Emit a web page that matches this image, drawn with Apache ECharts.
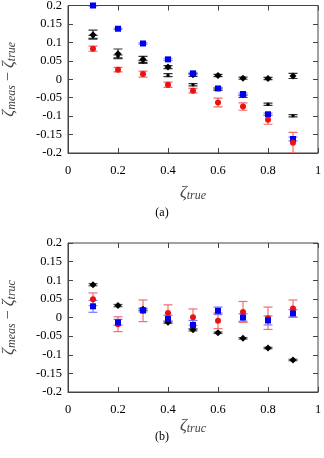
<!DOCTYPE html>
<html><head><meta charset="utf-8">
<script src="https://cdn.jsdelivr.net/npm/echarts@6/dist/echarts.min.js"></script>
<style>html,body{margin:0;padding:0;background:#fff}#c{width:324px;height:458px}</style>
</head><body><div id="c"></div>
<script>
// x positions
var zetaTrue = [0.1, 0.2, 0.3, 0.4, 0.5, 0.6, 0.7, 0.8, 0.9];
var xTicks = ['0', '0.2', '0.4', '0.6', '0.8', '1'];
var yTicks = ['-0.2', '-0.15', '-0.1', '-0.05', '0', '0.05', '0.1', '0.15', '0.2'];

// panel (a)
var aBlackDiamond = [0.121, 0.069, 0.054, 0.033, 0.012, 0.010, 0.003, 0.002, 0.009];
var aBlackDiamondErr = [0.012, 0.013, 0.008, 0.004, 0.004, 0.003, 0.003, 0.003, 0.007];
var aBlackCross = [0.115, 0.062, 0.047, 0.011, -0.015, -0.027, -0.046, -0.068, -0.099];
var aBlackCrossErr = [0.004, 0.004, 0.004, 0.004, 0.003, 0.003, 0.003, 0.003, 0.003];
var aBlue = [0.200, 0.137, 0.097, 0.054, 0.016, -0.025, -0.040, -0.095, -0.162];
var aBlueErr = [0.002, 0.002, 0.002, 0.003, 0.003, 0.003, 0.003, 0.003, 0.005];
var aRed = [0.083, 0.026, 0.014, -0.015, -0.031, -0.063, -0.074, -0.110, -0.172];
var aRedErr = [0.007, 0.006, 0.008, 0.007, 0.006, 0.012, 0.010, 0.012, 0.028];

// panel (b)
var bBlack = [0.088, 0.032, 0.022, -0.013, -0.033, -0.041, -0.056, -0.082, -0.114];
var bBlackErr = [0.003, 0.003, 0.003, 0.003, 0.003, 0.002, 0.002, 0.002, 0.002];
var bRed = [0.049, -0.018, 0.018, 0.012, 0.001, -0.009, 0.015, -0.002, 0.024];
var bRedErr = [0.017, 0.020, 0.029, 0.022, 0.022, 0.021, 0.028, 0.030, 0.023];
var bBlue = [0.030, -0.013, 0.019, -0.004, -0.020, 0.018, 0.000, -0.008, 0.011];
var bBlueErr = [0.016, 0.008, 0.004, 0.010, 0.012, 0.010, 0.010, 0.012, 0.010];

var FONT = 'Liberation Serif';
var AX = '#444';

function pts(ys, es) { return zetaTrue.map(function (x, i) { return [x, ys[i], es[i]]; }); }

function errSeries(ys, es, color, gi) {
  return {
    type: 'custom', xAxisIndex: gi * 2, yAxisIndex: gi * 2, clip: true, z: 2,
    dimensions: ['x', 'y', 'e'], encode: { x: 0, y: 1 },
    data: pts(ys, es),
    renderItem: function (params, api) {
      var x = api.value(0), y = api.value(1), e = api.value(2);
      var t = api.coord([x, y + e]), b = api.coord([x, y - e]);
      var hw = 4.5, st = { stroke: color, lineWidth: 1.2 };
      return { type: 'group', children: [
        { type: 'line', shape: { x1: t[0], y1: t[1], x2: b[0], y2: b[1] }, style: st },
        { type: 'line', shape: { x1: t[0] - hw, y1: t[1], x2: t[0] + hw, y2: t[1] }, style: st },
        { type: 'line', shape: { x1: b[0] - hw, y1: b[1], x2: b[0] + hw, y2: b[1] }, style: st }
      ] };
    }
  };
}
function markSeries(ys, color, symbol, size, gi) {
  return {
    type: 'scatter', xAxisIndex: gi * 2, yAxisIndex: gi * 2, clip: false, z: 3,
    symbol: symbol, symbolSize: size, itemStyle: { color: color, opacity: 1 },
    data: zetaTrue.map(function (x, i) { return [x, ys[i]]; })
  };
}

var grids = [
  { left: 68, top: 5.5, width: 250, height: 147.5, show: true, borderColor: AX, borderWidth: 1,
    containLabel: false, outerBoundsMode: 'none' },
  { left: 68, top: 243, width: 250, height: 149, show: true, borderColor: AX, borderWidth: 1,
    containLabel: false, outerBoundsMode: 'none' }
];

var subRich = {
  z: { fontFamily: FONT, fontStyle: 'italic', fontSize: 17, lineHeight: 18, verticalAlign: 'middle' },
  s: { fontFamily: FONT, fontStyle: 'italic', fontSize: 12, lineHeight: 18, verticalAlign: 'bottom' },
  m: { fontFamily: FONT, fontSize: 16, lineHeight: 18, verticalAlign: 'middle' }
};

var xNameGaps = [31, 21];
var xAxes = [], yAxes = [];
[0, 1].forEach(function (gi) {
  var sub = gi === 0 ? 'true' : 'truc';
  xAxes.push({
    gridIndex: gi, type: 'value', min: 0, max: 1, interval: 0.2, position: 'bottom',
    axisLine: { show: true, onZero: false, lineStyle: { color: AX } },
    axisTick: { show: true, inside: true, length: 5, lineStyle: { color: AX } },
    splitLine: { show: false },
    axisLabel: { color: '#000', fontFamily: FONT, fontSize: 12.5, margin: 11,
      formatter: function (v) { return xTicks[Math.round(v / 0.2)]; } },
    name: '{z|ζ}{s|' + sub + '}', nameLocation: 'middle', nameGap: xNameGaps[gi],
    nameTextStyle: { rich: subRich }
  });
  xAxes.push({
    gridIndex: gi, type: 'value', min: 0, max: 1, interval: 0.2, position: 'top',
    axisLine: { show: false, onZero: false }, axisLabel: { show: false }, splitLine: { show: false },
    axisTick: { show: true, inside: true, length: 5, lineStyle: { color: AX } }
  });
  yAxes.push({
    gridIndex: gi, type: 'value', min: -0.2, max: 0.2, interval: 0.05, position: 'left',
    axisLine: { show: true, onZero: false, lineStyle: { color: AX } },
    axisTick: { show: true, inside: true, length: 5, lineStyle: { color: AX } },
    splitLine: { show: false },
    axisLabel: { color: '#000', fontFamily: FONT, fontSize: 12.5, margin: 6,
      formatter: function (v) { return yTicks[Math.round((v + 0.2) / 0.05)]; } },
    name: '{z|ζ}{s|meas}{m| − }{z|ζ}{s|' + sub + '}', nameLocation: 'middle', nameGap: 50, nameRotate: 90,
    nameTextStyle: { rich: subRich }
  });
  yAxes.push({
    gridIndex: gi, type: 'value', min: -0.2, max: 0.2, interval: 0.05, position: 'right',
    axisLine: { show: false, onZero: false }, axisLabel: { show: false }, splitLine: { show: false },
    axisTick: { show: true, inside: true, length: 5, lineStyle: { color: AX } }
  });
});

var series = [
  errSeries(aBlackDiamond, aBlackDiamondErr, '#333', 0),
  errSeries(aBlackCross, aBlackCrossErr, '#333', 0),
  errSeries(aBlue, aBlueErr, '#7a7aff', 0),
  errSeries(aRed, aRedErr, '#f06a6a', 0),
  markSeries(aBlackDiamond, '#000', 'diamond', 7, 0),
  markSeries(aBlackCross, '#000', 'diamond', 4, 0),
  markSeries(aBlue, '#0000ee', 'rect', 6, 0),
  markSeries(aRed, '#ee1111', 'circle', 6, 0),
  errSeries(bBlack, bBlackErr, '#555', 1),
  errSeries(bRed, bRedErr, '#f07070', 1),
  errSeries(bBlue, bBlueErr, '#7a7aff', 1),
  markSeries(bBlack, '#000', 'diamond', 7, 1),
  markSeries(bRed, '#ee1111', 'circle', 6, 1),
  markSeries(bBlue, '#0000ee', 'rect', 6, 1)
];

var chart = echarts.init(document.getElementById('c'), null, { renderer: 'canvas' });
chart.setOption({
  animation: false,
  backgroundColor: '#fff',
  grid: grids,
  xAxis: xAxes,
  yAxis: yAxes,
  series: series,
  graphic: [
    { type: 'text', left: 'center', top: 207, style: { text: '(a)', font: '12px "Liberation Serif"', fill: '#000' } },
    { type: 'text', left: 'center', top: 431, style: { text: '(b)', font: '12px "Liberation Serif"', fill: '#000' } }
  ]
});
</script></body></html>
